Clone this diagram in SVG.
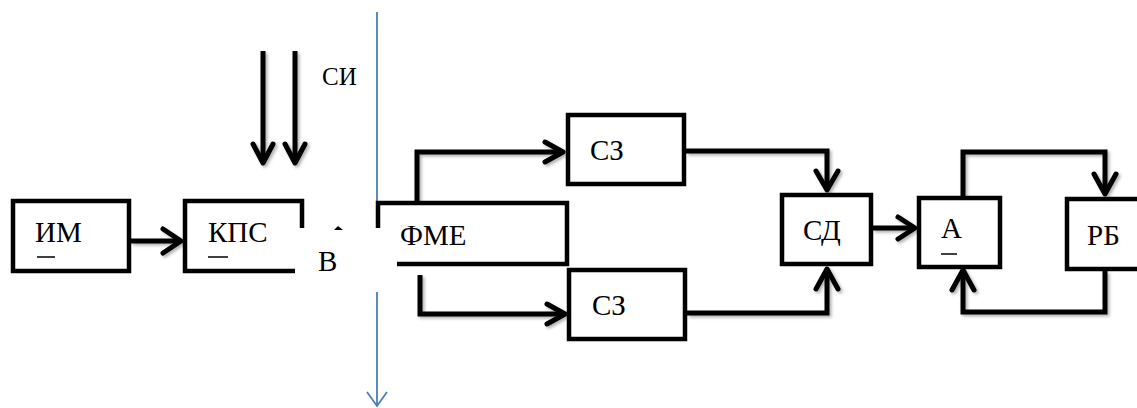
<svg xmlns="http://www.w3.org/2000/svg" width="1137" height="408" viewBox="0 0 1137 408">
<style>
  .box { fill: #ffffff; stroke: #000000; stroke-width: 4.5; }
  .edge { fill: none; stroke: #000000; stroke-width: 4.5; }
  .conn { fill: none; stroke: #000000; stroke-width: 5; stroke-linejoin: miter; }
  .head { fill: none; stroke: #000000; stroke-width: 5; stroke-linecap: round; stroke-linejoin: round; }
  .lbl { font-family: 'Liberation Serif', 'Times New Roman', serif; font-size: 29px; fill: #000000; }
  .dash { stroke: #000000; stroke-width: 1.5; }
  .axis { fill: none; stroke: #4a7ebb; stroke-width: 1.8; }
</style>
<defs>
  <filter id="sh" x="-10%" y="-10%" width="130%" height="130%">
    <feDropShadow dx="2" dy="2" stdDeviation="1.5" flood-color="#000000" flood-opacity="0.3"/>
  </filter>
</defs>
<rect width="1137" height="408" fill="#ffffff"/>

<g id="axis">
  <line class="axis" x1="377" y1="12" x2="377" y2="228"/>
  <line class="axis" x1="377" y1="292" x2="377" y2="406"/>
  <path class="axis" d="M367,392 L377,406 L387,392"/>
</g>

<g id="node-im">
  <rect class="box" x="13" y="201" width="116" height="70"/>
  <text class="lbl" x="35" y="242">ИМ</text>
  <line class="dash" x1="37" y1="257" x2="55" y2="257"/>
</g>

<g id="node-kps">
  <path class="edge" d="M295,271 L185,271 L185,201 L302,201 L302,228"/>
  <text class="lbl" x="208" y="242">КПС</text>
  <line class="dash" x1="208" y1="257" x2="228" y2="257"/>
</g>

<g id="node-fme">
  <path class="edge" d="M378,228 L378,203 L567,203 L567,264 L397,264"/>
  <text class="lbl" x="400" y="245">ФМЕ</text>
</g>

<g id="node-b">
  <text class="lbl" x="318" y="271">В</text>
  <path d="M334,230 L338,226 L343,230 Z" fill="#000000"/>
</g>

<g id="node-c3-top">
  <rect class="box" x="568" y="115" width="116" height="69"/>
  <text class="lbl" x="590" y="160">СЗ</text>
</g>

<g id="node-c3-bottom">
  <rect class="box" x="569" y="270" width="116" height="69"/>
  <text class="lbl" x="592" y="315">СЗ</text>
</g>

<g id="node-sd">
  <rect class="box" x="782" y="195" width="89" height="69"/>
  <text class="lbl" x="803" y="240">СД</text>
</g>

<g id="node-a">
  <rect class="box" x="919" y="198" width="81" height="69"/>
  <text class="lbl" x="941" y="238">А</text>
  <line class="dash" x1="941" y1="254" x2="957" y2="254"/>
</g>

<g id="node-rb">
  <rect class="box" x="1067" y="199" width="75" height="70"/>
  <text class="lbl" x="1087" y="245">РБ</text>
</g>

<g id="node-si">
  <text class="lbl" x="322" y="85" style="font-size:25px">СИ</text>
</g>

<g id="connectors" filter="url(#sh)">
  <line class="conn" x1="263" y1="51" x2="263" y2="163"/>
  <path class="head" d="M253,144 L263,163 L273,144"/>
  <line class="conn" x1="295" y1="51" x2="295" y2="163"/>
  <path class="head" d="M285,144 L295,163 L305,144"/>
  <line class="conn" x1="131" y1="241" x2="181" y2="241"/>
  <path class="head" d="M163,229 L181,241 L163,253"/>
  <path class="conn" d="M417,201 L417,152 L563,152"/>
  <path class="head" d="M545,142 L563,152 L545,162"/>
  <path class="conn" d="M420,275 L420,314 L565,314"/>
  <path class="head" d="M547,304 L565,314 L547,324"/>
  <path class="conn" d="M686,151 L827,151 L827,190"/>
  <path class="head" d="M816,171 L827,190 L838,171"/>
  <path class="conn" d="M687,313 L827,313 L827,269"/>
  <path class="head" d="M816,289 L827,269 L838,289"/>
  <line class="conn" x1="873" y1="228" x2="915" y2="228"/>
  <path class="head" d="M898,217 L915,228 L898,239"/>
  <path class="conn" d="M963,196 L963,152 L1105,152 L1105,194"/>
  <path class="head" d="M1094,174 L1105,194 L1116,174"/>
  <path class="conn" d="M1105,271 L1105,312 L963,312 L963,270"/>
  <path class="head" d="M952,290 L963,270 L974,290"/>
</g>
</svg>
